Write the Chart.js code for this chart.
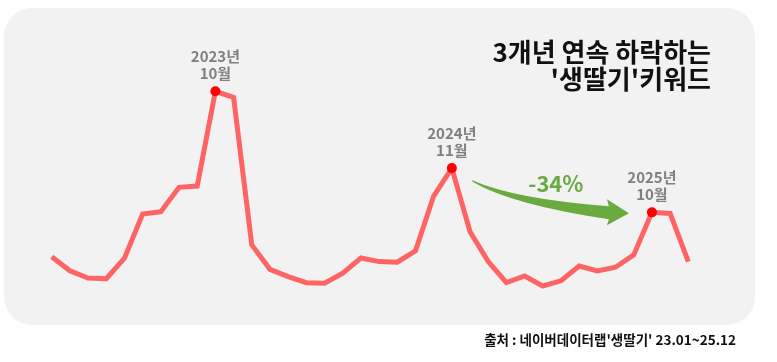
<!DOCTYPE html>
<html>
<head>
<meta charset="utf-8">
<script src="https://cdn.jsdelivr.net/npm/chart.js@4/dist/chart.umd.min.js"></script>
<style>
html,body{margin:0;padding:0;background:#ffffff;}
#wrap{width:777px;height:362px;position:relative;}
</style>
</head>
<body>
<div id="wrap"><canvas id="c" width="777" height="362"></canvas></div>
<script>
const months = ['23.01','23.02','23.03','23.04','23.05','23.06','23.07','23.08','23.09','23.10','23.11','23.12',
                '24.01','24.02','24.03','24.04','24.05','24.06','24.07','24.08','24.09','24.10','24.11','24.12',
                '25.01','25.02','25.03','25.04','25.05','25.06','25.07','25.08','25.09','25.10','25.11','25.12'];
const searchIndex = [20.7,14.0,10.5,10.2,20.0,41.2,42.3,54.0,54.6,100,97.1,26.4,
                     14.7,11.2,8.3,8.0,12.8,20.1,18.4,18.1,23.6,49.8,63.2,32.7,
                     18.4,8.3,11.5,6.7,9.2,16.3,13.9,15.7,21.6,42.0,41.5,18.4];
const peakIdx = [9,22,33];
const peakYear = ['2023년','2024년','2025년'];
const peakMonth = ['10월','11월','10월'];
const titleLines = ['3개년 연속 하락하는', '\'생딸기\'키워드'];
const changeText = '-34%';
const sourceText = '출처 : 네이버데이터랩\'생딸기\' 23.01~25.12';

const FONT = '"Noto Sans CJK KR", "Noto Sans", sans-serif';

function roundRect(ctx, x, y, w, h, r){
  ctx.beginPath();
  ctx.moveTo(x+r, y);
  ctx.lineTo(x+w-r, y);
  ctx.arcTo(x+w, y, x+w, y+r, r);
  ctx.lineTo(x+w, y+h-r);
  ctx.arcTo(x+w, y+h, x+w-r, y+h, r);
  ctx.lineTo(x+r, y+h);
  ctx.arcTo(x, y+h, x, y+h-r, r);
  ctx.lineTo(x, y+r);
  ctx.arcTo(x, y, x+r, y, r);
  ctx.closePath();
}

const decorPlugin = {
  id: 'decor',
  beforeDraw(chart){
    const ctx = chart.ctx;
    ctx.save();
    ctx.fillStyle = '#ffffff';
    ctx.fillRect(0,0,chart.width,chart.height);
    ctx.fillStyle = '#f2f2f2';
    roundRect(ctx, 4, 8, 751, 317, 28);
    ctx.fill();
    ctx.restore();
  },
  afterDraw(chart){
    const ctx = chart.ctx;
    const xs = chart.scales.x, ys = chart.scales.y;
    ctx.save();
    // title
    ctx.fillStyle = '#111111';
    ctx.font = 'bold 26px ' + FONT;
    ctx.textAlign = 'right';
    ctx.textBaseline = 'middle';
    ctx.fillText(titleLines[0], 711, 52);
    ctx.fillText(titleLines[1], 711, 79);
    // peak labels
    ctx.fillStyle = '#808080';
    ctx.font = 'bold 15px ' + FONT;
    ctx.textAlign = 'center';
    peakIdx.forEach((i, k) => {
      const px = xs.getPixelForValue(i);
      const py = ys.getPixelForValue(searchIndex[i]);
      ctx.fillText(peakYear[k], px, py - 35);
      ctx.fillText(peakMonth[k], px, py - 18);
    });
    // arrow between peak 2 and peak 3
    const ax = xs.getPixelForValue(peakIdx[1]), ay = ys.getPixelForValue(searchIndex[peakIdx[1]]);
    const bx = xs.getPixelForValue(peakIdx[2]), by = ys.getPixelForValue(searchIndex[peakIdx[2]]);
    const sx = ax + 20, sy = ay + 12;
    const tx = bx - 23, ty = by + 1;
    const hb = tx - 20;
    ctx.fillStyle = '#6aaa3f';
    ctx.beginPath();
    ctx.moveTo(sx, sy);
    ctx.quadraticCurveTo(sx + 42, sy + 19, hb, ty - 7);
    ctx.lineTo(hb - 2, ty - 14);
    ctx.lineTo(tx, ty);
    ctx.lineTo(hb - 2, ty + 12);
    ctx.lineTo(hb, ty + 6);
    ctx.quadraticCurveTo(sx + 41, sy + 25, sx + 1, sy + 2);
    ctx.closePath();
    ctx.fill();
    ctx.font = 'bold 22px ' + FONT;
    ctx.textAlign = 'center';
    ctx.textBaseline = 'alphabetic';
    ctx.fillText(changeText, (ax + bx) / 2 + 4, sy + 12);
    // source
    ctx.fillStyle = '#111111';
    ctx.font = 'bold 13.5px ' + FONT;
    ctx.textAlign = 'right';
    ctx.textBaseline = 'middle';
    ctx.fillText(sourceText, 736, 340);
    ctx.restore();
  }
};

new Chart(document.getElementById('c'), {
  type: 'line',
  data: {
    labels: months,
    datasets: [{
      data: searchIndex,
      borderColor: '#ff6464',
      borderWidth: 5,
      tension: 0,
      fill: false,
      clip: false,
      pointRadius: searchIndex.map((v, i) => peakIdx.includes(i) ? 5 : 0),
      pointHoverRadius: 0,
      pointBackgroundColor: '#ff0000',
      pointBorderColor: '#ff0000',
      pointBorderWidth: 0
    }]
  },
  options: {
    responsive: false,
    animation: false,
    devicePixelRatio: 1,
    layout: { padding: { left: 51.7, right: 88.7, top: 91.3, bottom: 62 } },
    plugins: { legend: { display: false }, tooltip: { enabled: false } },
    events: [],
    scales: {
      x: { display: false, offset: false },
      y: { display: false, min: 0, max: 100 }
    }
  },
  plugins: [decorPlugin]
});
</script>
</body>
</html>
